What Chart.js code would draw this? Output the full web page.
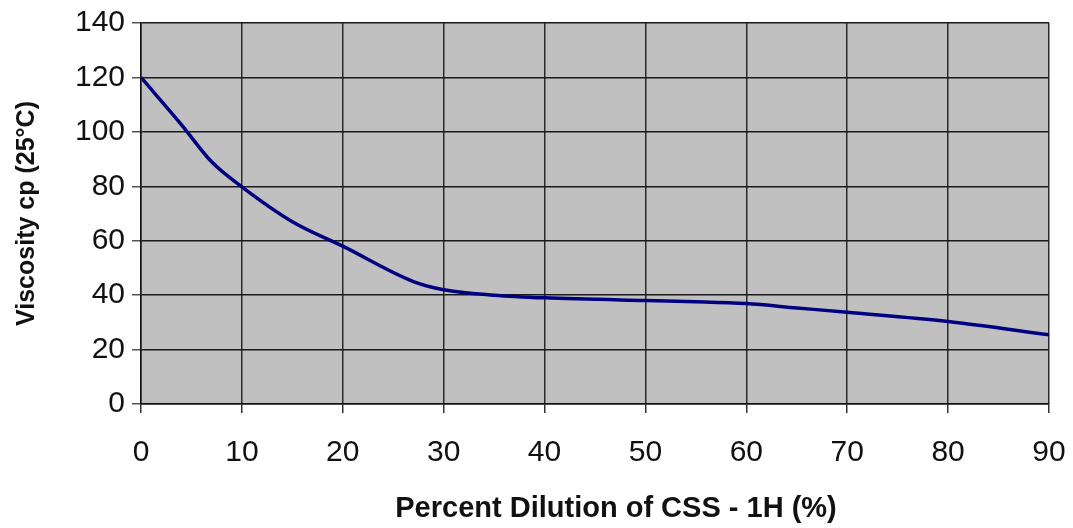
<!DOCTYPE html>
<html>
<head>
<meta charset="utf-8">
<script src="https://cdn.jsdelivr.net/npm/chart.js@4"></script>
<style>
    html, body { margin: 0; padding: 0; background: #fff; }
    #wrap { width: 1073px; height: 528px; }
</style>
</head>
<body>
<div id="wrap"><canvas id="myChart" width="1073" height="528"></canvas></div>
<script>
// --- Data ---
const dilution = [0, 4, 7, 10, 15, 20, 27, 30, 35, 40, 50, 55, 60, 65, 70, 80, 90];
const viscosity = [120, 102.7, 89, 79.8, 67, 58, 45, 42, 40, 39, 38, 37.6, 36.9, 35.3, 33.7, 30.3, 25.4];
const xTicks = [0, 10, 20, 30, 40, 50, 60, 70, 80, 90];
const yTicks = [0, 20, 40, 60, 80, 100, 120, 140];

const xTitle = 'Percent Dilution of CSS - 1H (%)';
const yTitle = 'Viscosity cp (25°C)';

const FONT = "'Liberation Sans', Arial, sans-serif";
Chart.defaults.font.family = FONT;
Chart.defaults.color = '#111';

// grey plot background
const plotBg = {
    id: 'plotBg',
    beforeDraw(chart) {
        const { ctx, chartArea: a } = chart;
        ctx.save();
        ctx.fillStyle = '#c0c0c0';
        ctx.fillRect(a.left, a.top, a.right - a.left, a.bottom - a.top);
        ctx.restore();
    }
};

// x axis title sits a little right of the plot centre in the original
const xTitlePlugin = {
    id: 'xTitlePlugin',
    afterDraw(chart) {
        const { ctx, chartArea: a } = chart;
        ctx.save();
        ctx.font = 'bold 29px ' + FONT;
        ctx.fillStyle = '#111';
        ctx.textAlign = 'center';
        ctx.textBaseline = 'middle';
        ctx.fillText(xTitle, (a.left + a.right) / 2 + 21, 509);
        ctx.restore();
    }
};

const myChart = new Chart(document.getElementById('myChart'), {
    type: 'line',
    data: {
        datasets: [{
            data: dilution.map((x, i) => ({ x: x, y: viscosity[i] })),
            borderColor: '#000080',
            borderWidth: 3.5,
            pointRadius: 0,
            fill: false,
            cubicInterpolationMode: 'monotone'
        }]
    },
    options: {
        responsive: false,
        animation: false,
        layout: { padding: { top: 23, right: 24, left: 0, bottom: 0 } },
        plugins: {
            legend: { display: false },
            tooltip: { enabled: false }
        },
        scales: {
            x: {
                type: 'linear',
                min: 0,
                max: 90,
                afterBuildTicks: (axis) => { axis.ticks = xTicks.map(v => ({ value: v })); },
                afterFit: (axis) => {
                    axis.height = 124;
                    axis.paddingLeft = 0;
                    axis.paddingRight = 0;
                },
                ticks: { font: { size: 30 }, padding: 22, color: '#111' },
                grid: { color: '#2a2a2a', lineWidth: 1.5, tickLength: 9, tickColor: '#333' },
                border: { color: '#111', width: 1.5 }
            },
            y: {
                min: 0,
                max: 140,
                afterBuildTicks: (axis) => { axis.ticks = yTicks.map(v => ({ value: v })); },
                afterFit: (axis) => {
                    axis.width = 141;
                    axis.paddingTop = 0;
                    axis.paddingBottom = 0;
                },
                ticks: { font: { size: 30 }, padding: 7, color: '#111' },
                grid: { color: '#1a1a1a', lineWidth: 1.5, tickLength: 9, tickColor: '#555' },
                border: { color: '#111', width: 1.5 },
                title: {
                    display: true,
                    text: yTitle,
                    color: '#111',
                    font: { size: 25, weight: 'bold' },
                    padding: { top: 12, bottom: 0 }
                }
            }
        }
    },
    plugins: [plotBg, xTitlePlugin]
});
</script>
</body>
</html>
